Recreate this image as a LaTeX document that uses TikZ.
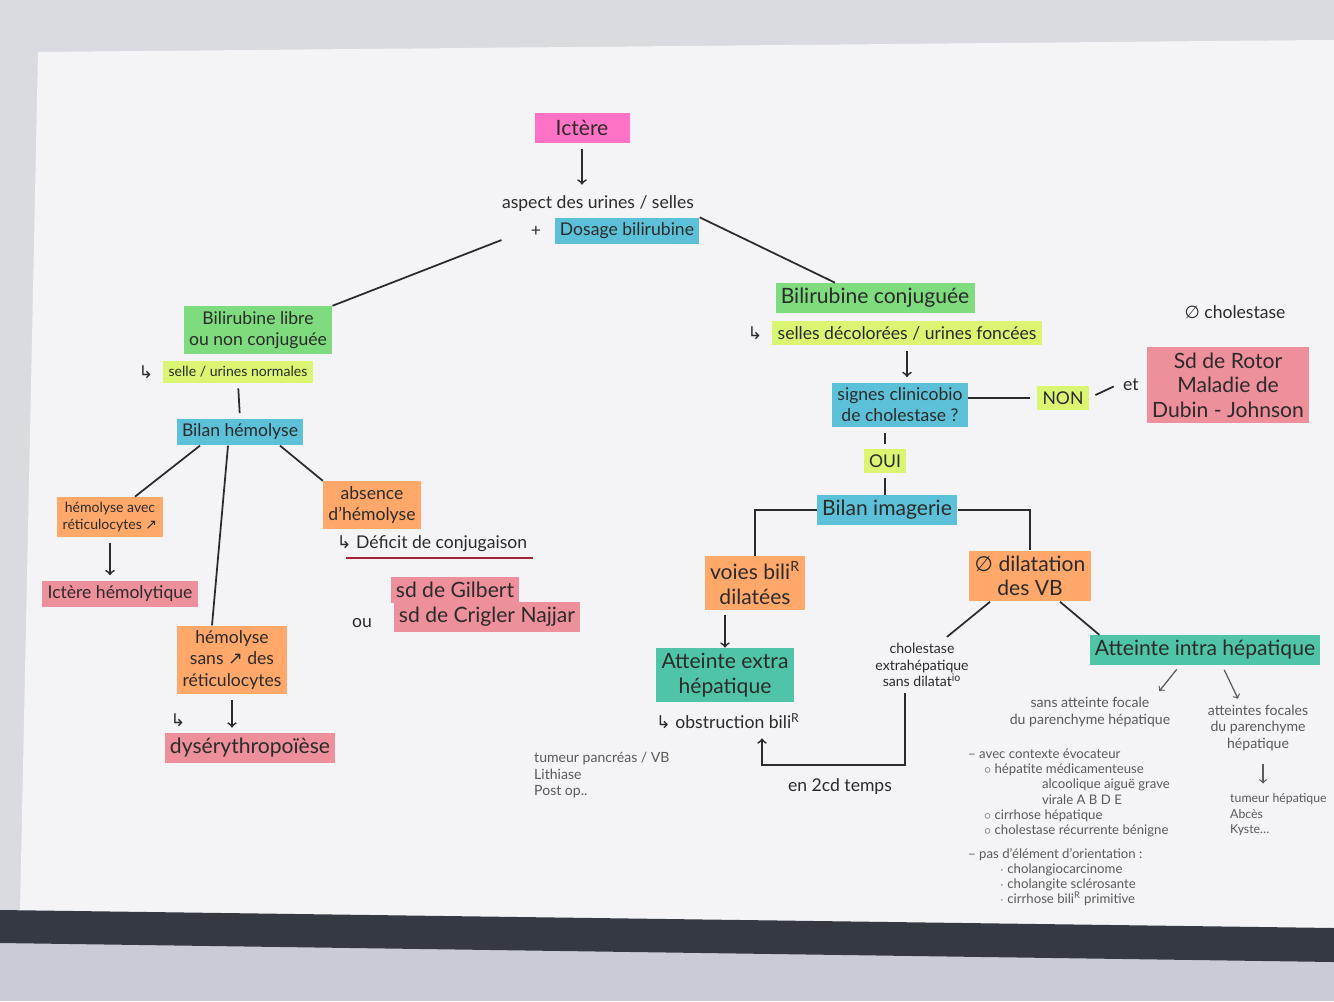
\documentclass[tikz,border=0pt]{standalone}
\usepackage{fontspec}
\setmainfont{Lato}
\newfontfamily\symfont{DejaVu Sans}
\usetikzlibrary{positioning}

\definecolor{rose}{HTML}{FF72C6}
\definecolor{bleu}{HTML}{5CC1D8}
\definecolor{vert}{HTML}{7EDB7E}
\definecolor{jaune}{HTML}{D9F572}
\definecolor{orangehl}{HTML}{FFA86A}
\definecolor{saumon}{HTML}{EE8F9C}
\definecolor{turquoise}{HTML}{4FC4A6}
\definecolor{encre}{HTML}{2B2B2B}
\definecolor{crayon}{HTML}{5A5A5A}
\definecolor{soulign}{HTML}{A3233A}
\definecolor{papier}{HTML}{F4F4F6}
\definecolor{fond}{HTML}{DADBE0}
\definecolor{sol}{HTML}{C9CCD4}
\definecolor{bordure}{HTML}{343942}

\newcommand{\retour}{{\symfont ↳}}
\newcommand{\monte}{{\symfont ↗}}
\newcommand{\nulle}{{\symfont ∅}}

\begin{document}
\begin{tikzpicture}[x=0.02cm, y=-0.02cm,
    every node/.style={text=encre},
    hl/.style={fill=#1, inner sep=3pt, align=center},
    gros/.style={font=\fontsize{12}{14}\selectfont},
    moyen/.style={font=\fontsize{10}{12}\selectfont},
    petit/.style={font=\fontsize{8}{9.5}\selectfont},
    note/.style={font=\fontsize{8}{9.5}\selectfont, text=crayon, align=left},
    lien/.style={draw=encre, line width=1pt},
    fleche/.style={->, draw=encre, line width=1pt}]

    \fill[fond] (0,0) rectangle (1334,1001);
    \fill[sol] (0,930) rectangle (1334,1001);
    \fill[papier] (38,52) -- (1322,40) -- (1334,40) -- (1334,930) -- (20,912) -- cycle;
    \fill[bordure] (0,910) -- (1334,928) -- (1334,962) -- (0,943) -- cycle;
    \useasboundingbox (0,0) rectangle (1334,1001);

    \node[hl=rose, gros, minimum width=1.9cm, minimum height=0.6cm] (ictere) at (582,128) {Ictère};
    \node[moyen] (aspect) at (598,204) {aspect des urines / selles};
    \node[hl=bleu, moyen] (dosage) at (627,231) {Dosage bilirubine};
    \node[moyen, left=4pt of dosage] (plus) {+};

    \node[hl=vert, moyen] (libre) at (258,330) {Bilirubine libre\\ou non conjuguée};
    \node[hl=jaune, petit] (normales) at (238,372) {selle / urines normales};
    \node[moyen, left=2pt of normales] (flibre) {\retour};
    \node[hl=bleu, moyen] (hemolyse) at (240,432) {Bilan hémolyse};
    \node[hl=orangehl, petit] (avec) at (110,517) {hémolyse avec\\réticulocytes \monte};
    \node[hl=saumon, moyen] (hemolytique) at (120,594) {Ictère hémolytique};
    \node[hl=orangehl, moyen] (sansreti) at (232,660) {hémolyse\\sans \monte{} des\\réticulocytes};
    \node[moyen] (fdys) at (178,720) {\retour};
    \node[hl=saumon, gros] (dys) at (250,748) {dysérythropoïèse};
    \node[hl=orangehl, moyen] (absence) at (372,505) {absence\\d'hémolyse};
    \node[moyen] (deficit) at (432,544) {\retour\ Déficit de conjugaison};
    \node[hl=saumon, gros] (gilbert) at (455,590) {sd de Gilbert};
    \node[hl=saumon, gros] (crigler) at (487,617) {sd de Crigler Najjar};
    \node[moyen] (ou) at (362,623) {ou};

    \node[hl=vert, gros] (conj) at (875,298) {Bilirubine conjuguée};
    \node[hl=jaune, moyen] (foncees) at (907,333) {selles décolorées / urines foncées};
    \node[moyen, left=2pt of foncees] (fconj) {\retour};
    \node[hl=bleu, moyen] (signes) at (900,405) {signes clinicobio\\de cholestase ?};
    \node[hl=jaune, moyen] (non) at (1063,398) {NON};
    \node[hl=saumon, gros] (rotor) at (1228,385) {Sd de Rotor\\Maladie de\\Dubin - Johnson};
    \node[moyen, left=1pt of rotor] (et) {et};
    \node[moyen] (sanschol) at (1235,312) {\nulle\ cholestase};
    \node[hl=jaune, moyen] (oui) at (885,461) {OUI};
    \node[hl=bleu, gros] (imagerie) at (887,510) {Bilan imagerie};
    \node[hl=orangehl, gros] (voies) at (755,583) {voies bili\textsuperscript{R}\\dilatées};
    \node[hl=turquoise, gros] (extra) at (725,675) {Atteinte extra\\hépatique};
    \node[moyen] (obstruction) at (728,721) {\retour\ obstruction bili\textsuperscript{R}};
    \node[note, anchor=north west] (causes) at (528,746) {tumeur pancréas / VB\\Lithiase\\Post op..};
    \node[hl=orangehl, gros] (dilatation) at (1030,576) {\nulle\ dilatation\\des VB};
    \node[petit, align=center] (extrachol) at (922,665) {cholestase\\extrahépatique\\sans dilatat\textsuperscript{io}};
    \node[hl=turquoise, gros] (intra) at (1205,650) {Atteinte intra hépatique};
    \node[moyen] (temps) at (840,787) {en 2cd temps};
    \node[note, align=center] (sansfocale) at (1090,712) {sans atteinte focale\\du parenchyme hépatique};
    \node[note, align=center] (focales) at (1258,728) {atteintes focales\\du parenchyme\\hépatique};
    \node[note, anchor=north west, font=\fontsize{7}{9}\selectfont] (lesions) at (1224,787) {tumeur hépatique\\Abcès\\Kyste\dots};
    \node[note, anchor=north west, font=\fontsize{7.5}{8.6}\selectfont] (liste) at (962,743) {%
        -- avec contexte évocateur\\
        \hspace*{1.2em}$\circ$ hépatite médicamenteuse\\
        \hspace*{5.6em}alcoolique aiguë grave\\
        \hspace*{5.6em}virale A B D E\\
        \hspace*{1.2em}$\circ$ cirrhose hépatique\\
        \hspace*{1.2em}$\circ$ cholestase récurrente bénigne\\[5pt]
        -- pas d'élément d'orientation :\\
        \hspace*{2.4em}$\cdot$ cholangiocarcinome\\
        \hspace*{2.4em}$\cdot$ cholangite sclérosante\\
        \hspace*{2.4em}$\cdot$ cirrhose bili\textsuperscript{R} primitive};

    \draw[soulign, line width=1.3pt] ([xshift=0.3cm]deficit.south west) -- (deficit.south east);

    \draw[fleche, shorten <=3pt, shorten >=3pt] (ictere.south) -- (ictere.south |- aspect.north);
    \draw[lien, shorten <=0.5cm] (plus.west) -- (libre.north east);
    \draw[lien] (dosage.north east) -- ([xshift=-0.8cm]conj.north);
    \draw[lien, shorten <=3pt, shorten >=3pt] (normales.south) -- (hemolyse.north);
    \draw[lien] ([xshift=-0.8cm]hemolyse.south) -- ([xshift=0.5cm]avec.north);
    \draw[lien] ([xshift=-0.24cm]hemolyse.south) -- ([xshift=-0.4cm]sansreti.north);
    \draw[lien] ([xshift=0.8cm]hemolyse.south) -- (absence.north west);
    \draw[fleche, shorten <=3pt, shorten >=3pt] (avec.south) -- (avec.south |- hemolytique.north);
    \draw[fleche, shorten <=3pt, shorten >=3pt] (sansreti.south) -- (sansreti.south |- dys.north);

    \draw[fleche, shorten <=3pt, shorten >=3pt] (foncees.south) -- (foncees.south |- signes.north);
    \draw[lien, shorten >=4pt] (signes.east |- non) -- (non.west);
    \draw[lien, shorten <=4pt, shorten >=2pt] (non.east) -- (et.west);
    \draw[lien, shorten <=3pt, shorten >=3pt] (oui.north |- signes.south) -- (oui.north);
    \draw[lien, shorten <=3pt] (oui.south) -- (oui.south |- imagerie.north);
    \draw[lien] (imagerie.west) -| (voies.north);
    \draw[lien] (imagerie.east) -| (dilatation.north);
    \draw[fleche, shorten <=3pt] (voies.south -| extra.north) -- (extra.north);
    \draw[lien] ([xshift=-0.8cm]dilatation.south) -- ([xshift=0.5cm]extrachol.north);
    \draw[lien] ([xshift=0.6cm]dilatation.south) -- ([xshift=0.2cm]intra.north west);
    \coordinate (coude) at (905,765);
    \draw[fleche, shorten >=2pt] (extrachol.south -| coude) -- (coude) -| ([xshift=0.68cm]obstruction.south);
    \draw[fleche, crayon, line width=0.7pt, shorten <=3pt] ([xshift=-0.5cm]intra.south) -- ([xshift=-0.34cm]sansfocale.north east);
    \draw[fleche, crayon, line width=0.7pt, shorten <=3pt] ([xshift=0.34cm]intra.south) -- ([xshift=-0.4cm]focales.north);
    \draw[fleche, crayon, line width=0.7pt, shorten <=4pt, shorten >=2pt] ([xshift=0.1cm]focales.south) -- ([xshift=0.1cm]focales.south |- lesions.north);
\end{tikzpicture}
\end{document}
